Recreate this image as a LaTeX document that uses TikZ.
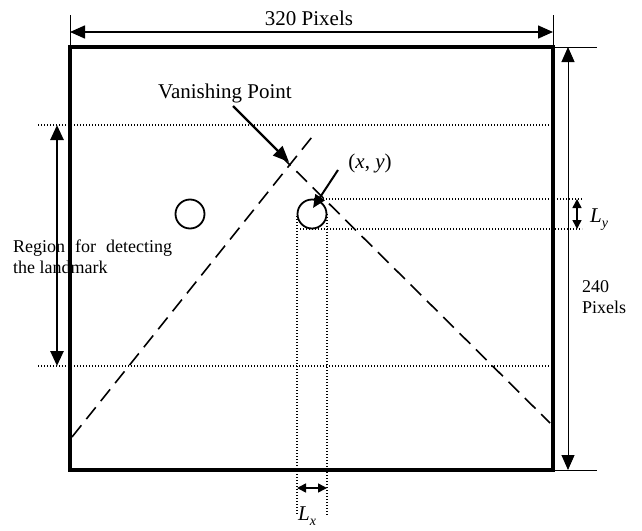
\documentclass[tikz,border=0pt]{standalone}
\usepackage{fontspec}
\setmainfont{Liberation Serif}
\usetikzlibrary{arrows.meta}
\tikzset{
  frame/.style={line width=4.2pt},
  thinline/.style={line width=1pt},
  guide/.style={line width=1.3pt, dash pattern=on 1.3pt off 1.7pt},
  persp/.style={line width=1.6pt, dash pattern=on 15pt off 8pt},
  bigdbl/.style={{Triangle[length=15pt,width=13pt]}-{Triangle[length=15pt,width=13pt]}},
  smalldbl/.style={{Triangle[length=9pt,width=9pt]}-{Triangle[length=9pt,width=9pt]}},
  bigtip/.style={-{Triangle[length=16pt,width=13pt]}},
  midtip/.style={-{Triangle[length=13pt,width=11pt]}},
  ring/.style={circle, draw, line width=1.8pt, minimum size=29pt, inner sep=0pt},
  lab/.style={inner sep=0pt},
}
\newcommand{\fsz}[1]{\fontsize{#1}{#1}\selectfont}
\begin{document}
\begin{tikzpicture}[x=1pt,y=-1pt]
\useasboundingbox (0,0) rectangle (642,530);
% frame corners
\coordinate (TL) at (70,47);
\coordinate (TR) at (553,47);
\coordinate (BR) at (553,470);
\coordinate (BL) at (70,470);
% top dimension
\coordinate (tt1) at (70,15);
\coordinate (tt2) at (553,15);
\coordinate (ta1) at (70,32);
\coordinate (ta2) at (553,32);
\draw[thinline] (tt1) -- (TL);
\draw[thinline] (tt2) -- (TR);
\draw[line width=1.5pt, bigdbl] (ta1) -- (ta2);
\node[lab, anchor=base] (w320) at (309,25) {\fsz{21}320 Pixels};
% right dimension
\coordinate (rt2) at (597,47);
\coordinate (rb2) at (597,470);
\coordinate (ra1) at (568,47);
\coordinate (ra2) at (568,470);
\draw[thinline] (TR) -- (rt2);
\draw[thinline] (BR) -- (rb2);
\draw[thinline, bigdbl] (ra1) -- (ra2);
\node[lab, anchor=base west] (h240) at (582,292) {\fsz{18}240};
\node[lab, anchor=base west] (hpix) at (582,313) {\fsz{18}Pixels};
% region guides
\coordinate (g1a) at (38,125);
\coordinate (g1b) at (553,125);
\coordinate (g2a) at (38,366);
\coordinate (g2b) at (553,366);
\draw[guide] (g1a) -- (g1b);
\draw[guide] (g2a) -- (g2b);
\coordinate (la1) at (57,125);
\coordinate (la2) at (57,366);
\draw[line width=2.6pt, bigdbl] (la1) -- (la2);
\node[lab, anchor=base west] (reg1) at (13,252) {\fsz{18}Region\hspace{10pt}for\hspace{10pt}detecting};
\node[lab, anchor=base west] (reg2) at (13,273) {\fsz{18}the landmark};
% perspective lines
\coordinate (p1a) at (72,437);
\coordinate (p1b) at (312,137);
\coordinate (p2a) at (280,155);
\coordinate (p2b) at (550,423);
\draw[persp] (p1a) -- (p1b);
\draw[persp] (p2a) -- (p2b);
% circles
\node[ring] (c1) at (190,214) {};
\node[ring] (c2) at (312,214) {};
% landmark guides
\coordinate (hy1a) at (314,199);
\coordinate (hy1b) at (582,199);
\coordinate (hy2a) at (300,229);
\coordinate (hy2b) at (582,229);
\draw[guide] (hy1a) -- (hy1b);
\draw[guide] (hy2a) -- (hy2b);
\coordinate (vx1a) at (297,216);
\coordinate (vx1b) at (297,515);
\coordinate (vx2a) at (327,214);
\coordinate (vx2b) at (327,515);
\draw[guide] (vx1a) -- (vx1b);
\draw[guide] (vx2a) -- (vx2b);
% Ly and Lx
\coordinate (ly1) at (577,199);
\coordinate (ly2) at (577,229);
\draw[line width=1.5pt, smalldbl] (ly1) -- (ly2);
\node[lab, anchor=base west] (Ly) at (590,222) {\fsz{21}\textit{L}\raisebox{-5pt}{\fsz{14}\textit{y}}};
\coordinate (lx1) at (297,488);
\coordinate (lx2) at (327,488);
\draw[line width=1.5pt, smalldbl] (lx1) -- (lx2);
\node[lab, anchor=base west] (Lx) at (298,520) {\fsz{21}\textit{L}\raisebox{-5pt}{\fsz{14}\textit{x}}};
% frame
\draw[frame] (TL) rectangle (BR);
% vanishing point
\node[lab, anchor=base] (vp) at (225,98) {\fsz{21}Vanishing Point};
\coordinate (vpa) at (233,106);
\coordinate (vpb) at (289,162);
\draw[line width=2.4pt, bigtip] (vpa) -- (vpb);
% (x,y)
\node[lab, anchor=base] (xy) at (370,168) {\fsz{21}(\textit{x}, \textit{y})};
\coordinate (xya) at (338,170);
\coordinate (xyb) at (313,208);
\draw[line width=2pt, midtip] (xya) -- (xyb);
\end{tikzpicture}
\end{document}
